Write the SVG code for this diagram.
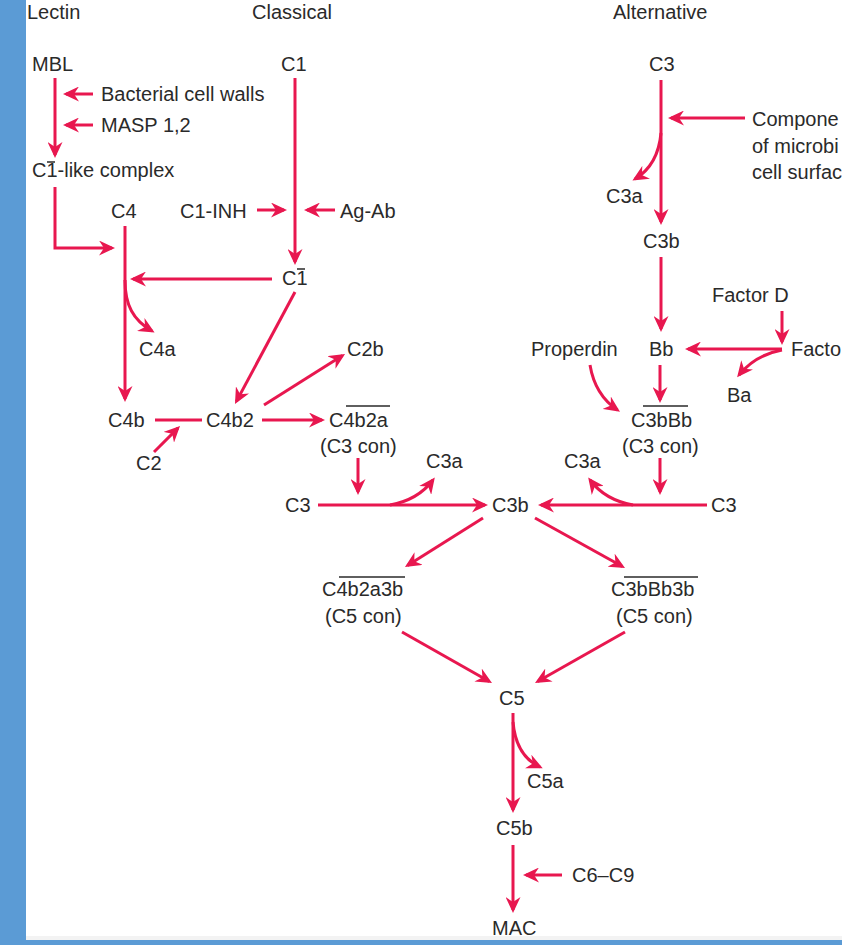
<svg xmlns="http://www.w3.org/2000/svg" width="842" height="945" viewBox="0 0 842 945">
<defs>
<marker id="ah" viewBox="0 0 16 15" refX="13" refY="7.5" markerWidth="16" markerHeight="15" markerUnits="userSpaceOnUse" orient="auto">
<path d="M0,0 L16,7.5 L0,15 L5,7.5 Z" fill="#e8174f"/>
</marker>
<style>
text{font-family:"Liberation Sans",Arial,Helvetica,sans-serif;font-size:20px;fill:#2a2a2a}
.c{fill:none;stroke:#e8174f;stroke-width:3}
.a{marker-end:url(#ah)}
.ob{stroke:#2a2a2a;stroke-width:1.5}
</style>
</defs>
<rect x="0" y="0" width="842" height="945" fill="#ffffff"/>
<rect x="0" y="0" width="26" height="945" fill="#5b9bd5"/>
<rect x="26" y="936" width="816" height="4" fill="#f3f3f3"/>
<rect x="0" y="940" width="842" height="5" fill="#5b9bd5"/>

<g id="connectors">
<path class="c a" d="M55,78 V155"/>
<path class="c a" d="M93,94 H66"/>
<path class="c a" d="M93,125 H66"/>
<path class="c a" d="M55,187 V248 H112"/>
<path class="c a" d="M295,78 V262"/>
<path class="c a" d="M257,210 H284"/>
<path class="c a" d="M335,210 H307"/>
<path class="c a" d="M272,279 H133"/>
<path class="c a" d="M125,226 V399"/>
<path class="c a" d="M125,280 C125,305 133,320 152,331"/>
<path class="c a" d="M295,292 L236.4,401.4"/>
<path class="c" d="M155,420 H202"/>
<path class="c a" d="M154,452 L177.9,428.1"/>
<path class="c a" d="M264,405 L342.5,355.6"/>
<path class="c a" d="M262,420 H322"/>
<path class="c a" d="M358,458 V492"/>
<path class="c a" d="M318,505 H485"/>
<path class="c a" d="M390,505 Q418,500 433,480"/>
<path class="c a" d="M707,505 H541"/>
<path class="c a" d="M633,505 Q605,500 590,480"/>
<path class="c a" d="M660,458 V492"/>
<path class="c a" d="M661,80 V222"/>
<path class="c a" d="M745,118 H671"/>
<path class="c a" d="M661,133 C659,155 650,170 635,179"/>
<path class="c a" d="M661,257 V329"/>
<path class="c a" d="M782,311 V342"/>
<path class="c a" d="M782,349 H688"/>
<path class="c a" d="M782,350 Q755,355 739,375"/>
<path class="c a" d="M660,365 V400"/>
<path class="c a" d="M590,365 Q595,395 617.5,410"/>
<path class="c a" d="M483,518 L407.5,565.4"/>
<path class="c a" d="M535,518 L622.4,566.5"/>
<path class="c a" d="M402,632 L489.4,681.5"/>
<path class="c a" d="M625,632 L537.6,681.5"/>
<path class="c a" d="M513,713 V810"/>
<path class="c a" d="M513,722 C515,745 525,760 540,767"/>
<path class="c a" d="M513,845 V910"/>
<path class="c a" d="M562,875 H526"/>
</g>

<g id="title-lectin"><text x="27" y="19">Lectin</text></g>
<g id="title-classical"><text x="252" y="19">Classical</text></g>
<g id="title-alternative"><text x="613" y="19">Alternative</text></g>

<g id="mbl"><text x="32" y="71">MBL</text></g>
<g id="bacterial"><text x="101" y="101">Bacterial cell walls</text></g>
<g id="masp"><text x="101" y="132">MASP 1,2</text></g>
<g id="c1-like"><text x="32" y="177">C1-like complex</text><line class="ob" x1="47" y1="162" x2="55" y2="162"/></g>
<g id="c4"><text x="111" y="218">C4</text></g>
<g id="c4a"><text x="139" y="356">C4a</text></g>
<g id="c4b"><text x="108" y="427">C4b</text></g>
<g id="c2"><text x="136" y="470">C2</text></g>

<g id="c1"><text x="281" y="71">C1</text></g>
<g id="c1-inh"><text x="180" y="218">C1-INH</text></g>
<g id="ag-ab"><text x="340" y="218">Ag-Ab</text></g>
<g id="c1bar"><text x="282" y="285">C1</text><line class="ob" x1="297" y1="269" x2="305" y2="269"/></g>
<g id="c2b"><text x="347" y="356">C2b</text></g>
<g id="c4b2"><text x="206" y="427">C4b2</text></g>
<g id="c4b2a"><text x="329" y="427">C4b2a</text><line class="ob" x1="346" y1="406" x2="390" y2="406"/><text x="320" y="453">(C3 con)</text></g>
<g id="c3-left"><text x="285" y="512">C3</text></g>
<g id="c3a-left"><text x="426" y="468">C3a</text></g>
<g id="c3b-center"><text x="492" y="512">C3b</text></g>
<g id="c3a-right"><text x="564" y="468">C3a</text></g>
<g id="c3-right"><text x="711" y="512">C3</text></g>

<g id="c3-alt"><text x="649" y="71">C3</text></g>
<g id="components"><text x="752" y="126">Compone</text><text x="752" y="153">of microbi</text><text x="752" y="179">cell surfac</text></g>
<g id="c3a-alt"><text x="606" y="203">C3a</text></g>
<g id="c3b-alt"><text x="643" y="248">C3b</text></g>
<g id="factor-d"><text x="712" y="302">Factor D</text></g>
<g id="properdin"><text x="531" y="356">Properdin</text></g>
<g id="bb"><text x="649" y="356">Bb</text></g>
<g id="factor-b"><text x="791" y="356">Facto</text></g>
<g id="ba"><text x="727" y="402">Ba</text></g>
<g id="c3bbb"><text x="631" y="427">C3bBb</text><line class="ob" x1="643" y1="406" x2="688" y2="406"/><text x="622" y="453">(C3 con)</text></g>

<g id="c4b2a3b"><text x="322" y="596">C4b2a3b</text><line class="ob" x1="339" y1="577" x2="405" y2="577"/><text x="325" y="623">(C5 con)</text></g>
<g id="c3bbb3b"><text x="611" y="596">C3bBb3b</text><line class="ob" x1="624" y1="577" x2="698" y2="577"/><text x="616" y="623">(C5 con)</text></g>
<g id="c5"><text x="499" y="705">C5</text></g>
<g id="c5a"><text x="527" y="788">C5a</text></g>
<g id="c5b"><text x="496" y="835">C5b</text></g>
<g id="c6-c9"><text x="572" y="882">C6–C9</text></g>
<g id="mac"><text x="492" y="935">MAC</text></g>
</svg>
